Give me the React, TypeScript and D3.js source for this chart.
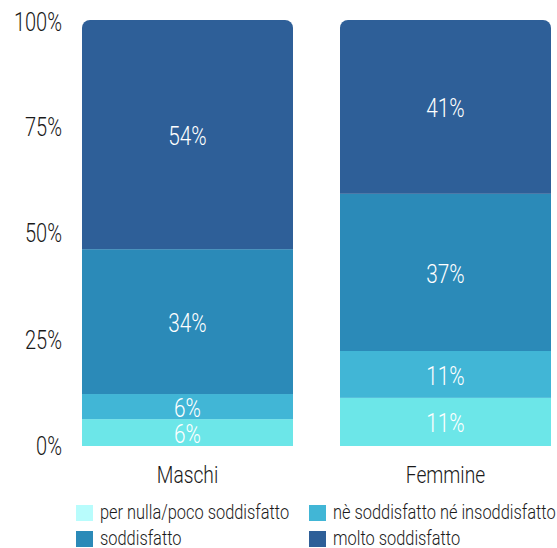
import React, { useRef, useEffect } from "react";
import * as d3 from "d3";

const categories = ["Maschi", "Femmine"];
const seriesNames = [
  "per nulla/poco soddisfatto",
  "nè soddisfatto né insoddisfatto",
  "soddisfatto",
  "molto soddisfatto",
];
const perNulla = [6.3, 11.3];
const neNe = [5.9, 11.0];
const soddisfatto = [34.0, 36.9];
const molto = [53.8, 40.8];
const valueLabels = [
  ["6%", "11%"],
  ["6%", "11%"],
  ["34%", "37%"],
  ["54%", "41%"],
];
const barColors = ["#6ce6e8", "#41b6d6", "#2b8ab8", "#2e5f98"];
const legendColors = ["#b8fcfc", "#41b6d6", "#2b8ab8", "#2e5f98"];
const yTicks = [0, 25, 50, 75, 100];

const FONT = "Roboto, sans-serif";

const App = () => {
  const ref = useRef<SVGSVGElement>(null);

  useEffect(() => {
    const svg = d3.select(ref.current);
    svg.selectAll("*").remove();

    const x = d3.scaleBand().domain(categories).range([82, 551]).paddingInner(0.182).paddingOuter(0);
    const y = d3.scaleLinear().domain([0, 100]).range([446, 20]);

    const label = (
      px: number,
      py: number,
      txt: string,
      size: number,
      fill: string,
      anchor: string,
      sx: number
    ) =>
      svg.append("text")
        .attr("transform", `translate(${px},${py}) scale(${sx},1)`)
        .attr("dy", "0.36em")
        .attr("text-anchor", anchor)
        .attr("fill", fill)
        .attr("font-size", size)
        .attr("font-weight", 300)
        .attr("font-family", FONT)
        .text(txt);

    const rows = categories.map((c, i) => ({
      cat: c,
      s0: perNulla[i],
      s1: neNe[i],
      s2: soddisfatto[i],
      s3: molto[i],
    }));
    const stack = d3.stack<any>().keys(["s0", "s1", "s2", "s3"])(rows);

    const clipR = 8;
    categories.forEach((c, i) => {
      const cp = svg.append("clipPath").attr("id", "clip" + i);
      cp.append("rect")
        .attr("x", x(c)!)
        .attr("y", y(100))
        .attr("width", x.bandwidth())
        .attr("height", y(0) - y(100))
        .attr("rx", clipR);
      cp.append("rect")
        .attr("x", x(c)!)
        .attr("y", y(100) + clipR * 2)
        .attr("width", x.bandwidth())
        .attr("height", y(0) - y(100) - clipR * 2);
    });

    stack.forEach((layer, k) => {
      layer.forEach((d, i) => {
        const c = categories[i];
        svg.append("rect")
          .attr("clip-path", `url(#clip${i})`)
          .attr("x", x(c)!)
          .attr("y", y(d[1]))
          .attr("width", x.bandwidth())
          .attr("height", y(d[0]) - y(d[1]))
          .attr("fill", barColors[k]);
      });
    });
    stack.forEach((layer, k) => {
      layer.forEach((d, i) => {
        const c = categories[i];
        label(x(c)! + x.bandwidth() / 2, (y(d[0]) + y(d[1])) / 2 + 1, valueLabels[k][i], 26, "#ffffff", "middle", 0.8);
      });
    });

    yTicks.forEach((t) => {
      label(62, y(t) + (t === 100 ? 2 : 0), t + "%", 26, "#1a1a1a", "end", 0.77);
    });

    categories.forEach((c) => {
      label(x(c)! + x.bandwidth() / 2, 474, c, 24, "#1a1a1a", "middle", 0.8);
    });

    const legendPos = [
      [76, 512],
      [309, 512],
      [76, 538],
      [309, 538],
    ];
    seriesNames.forEach((s, k) => {
      const [lx, ly] = legendPos[k];
      svg.append("rect")
        .attr("x", lx)
        .attr("y", ly - 7)
        .attr("width", 17)
        .attr("height", 16)
        .attr("fill", legendColors[k]);
      label(lx + 24, ly, s, 20.5, "#1a1a1a", "start", 0.8);
    });
  }, []);

  return (
    <svg
      ref={ref}
      width={557}
      height={548}
      style={{ position: "absolute", left: 0, top: 0, background: "#fff" }}
    />
  );
};

export default App;
